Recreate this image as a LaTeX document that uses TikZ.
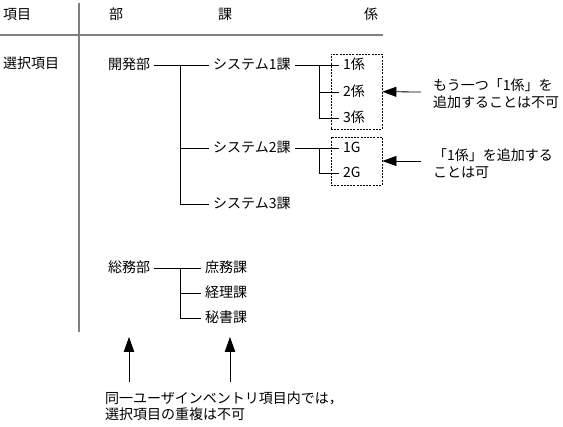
\documentclass[tikz,border=0pt]{standalone}
\usepackage{fontspec}
\setmainfont{Noto Sans CJK JP}
\usepackage{xcolor}
\usepackage{tikz}
\usetikzlibrary{arrows.meta,positioning}
\definecolor{rulec}{HTML}{808080}
\definecolor{inkc}{HTML}{000000}
\tikzset{
  lbl/.style={anchor=west,inner xsep=4pt,inner ysep=0pt,text height=12pt,text depth=2pt},
  hd/.style={inner sep=0pt,text height=12pt,text depth=2pt},
  ln/.style={inkc,line width=0.8pt},
  rl/.style={rulec,line width=2pt},
  dbox/.style={draw=inkc,line width=0.8pt,dash pattern=on 2pt off 1.2pt,inner sep=0pt},
  note/.style={anchor=west,align=left,inner sep=0pt},
  ar/.style={-{Triangle[length=14pt,width=10pt]},line width=0.8pt,inkc},
  arv/.style={-{Triangle[length=15pt,width=10.5pt]},line width=0.8pt,inkc}
}
\begin{document}
\begin{tikzpicture}[x=1pt,y=-1pt,font=\fontsize{14}{16.5}\selectfont]
\useasboundingbox (0,0) rectangle (563,427);
\node[hd,anchor=west] (hkm) at (3,15) {項目};
\node[hd] (hbu) at (116,15) {部};
\node[hd] (hka) at (225,15) {課};
\node[hd] (hkk) at (371,15) {係};
\draw[rl] (0,35) -- (383,35);
\draw[rl] (78.5,3) -- (78.5,332);
\node[hd,anchor=west] (sel) at (3,64) {選択項目};
% 開発部
\node[lbl] (kai) at (104,65) {開発部};
\node[lbl] (sys1) at (209,65) {システム1課};
\node[lbl] (sys2) at (209,148) {システム2課};
\node[lbl] (sys3) at (209,204) {システム3課};
\coordinate (b1) at (180,65);
\draw[ln] (kai) -- (sys1);
\draw[ln] (b1) |- (sys3);
\draw[ln] (b1 |- sys2) -- (sys2);
\node[lbl] (k1) at (339,65) {1係};
\node[lbl] (k2) at (339,92) {2係};
\node[lbl] (k3) at (339,118) {3係};
\coordinate (b2) at (319,65);
\draw[ln] (sys1) -- (k1);
\draw[ln] (b2) |- (k3);
\draw[ln] (b2 |- k2) -- (k2);
\node[lbl] (g1) at (339,148) {1G};
\node[lbl] (g2) at (339,173) {2G};
\coordinate (b3) at (319,148);
\draw[ln] (sys2) -- (g1);
\draw[ln] (b3) |- (g2);
\node[dbox,minimum width=51pt,minimum height=75pt] (bx1) at (356.5,91.5) {};
\node[dbox,minimum width=51pt,minimum height=48pt] (bx2) at (356.5,161) {};
\node[note] (n1) at (433,93.5) {もう一つ「1係」を\\追加することは不可};
\node[note] (n2) at (433,163.5) {「1係」を追加する\\ことは可};
\coordinate (t1) at (421,92);
\coordinate (t2) at (421,161);
\draw[ar] (t1) -- (bx1);
\draw[ar] (t2) -- (bx2);
% 総務部
\node[lbl] (som) at (104,268) {総務部};
\node[lbl] (ka1) at (201,268) {庶務課};
\node[lbl] (ka2) at (201,293) {経理課};
\node[lbl] (ka3) at (201,318) {秘書課};
\coordinate (b4) at (180,268);
\draw[ln] (som) -- (ka1);
\draw[ln] (b4) |- (ka3);
\draw[ln] (b4 |- ka2) -- (ka2);
% 注記
\node[note] (n3) at (105,406) {同一ユーザインベントリ項目内では，\\選択項目の重複は不可};
\coordinate (u1) at (129,382); \coordinate (u2) at (129,337);
\coordinate (v1) at (230,382); \coordinate (v2) at (230,337);
\draw[arv] (u1) -- (u2);
\draw[arv] (v1) -- (v2);
\end{tikzpicture}
\end{document}
